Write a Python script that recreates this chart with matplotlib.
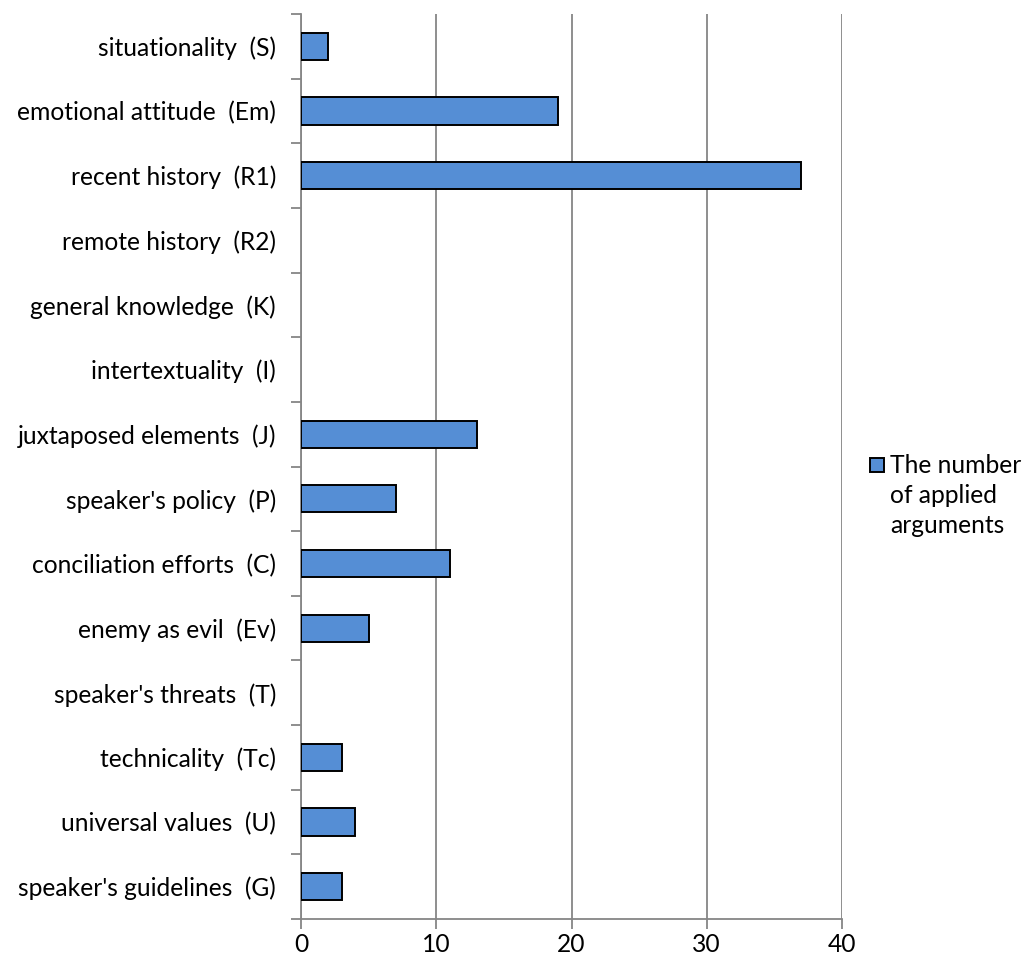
import matplotlib
matplotlib.use("Agg")
import matplotlib.pyplot as plt
from matplotlib.patches import Rectangle

categories = [
    "situationality  (S)",
    "emotional attitude  (Em)",
    "recent history  (R1)",
    "remote history  (R2)",
    "general knowledge  (K)",
    "intertextuality  (I)",
    "juxtaposed elements  (J)",
    "speaker's policy  (P)",
    "conciliation efforts  (C)",
    "enemy as evil  (Ev)",
    "speaker's threats  (T)",
    "technicality  (Tc)",
    "universal values  (U)",
    "speaker's guidelines  (G)",
]
values = [2, 19, 37, 0, 0, 0, 13, 7, 11, 5, 0, 3, 4, 3]
x_ticks = [0, 10, 20, 30, 40]
series_name = "The number\nof applied\narguments"

bar_color = "#558ED5"
grid_color = "#868686"
fs = 17.7

plt.rcParams["font.family"] = ["Lato", "DejaVu Sans"]

W, H = 1029, 965
fig = plt.figure(figsize=(W / 100, H / 100), dpi=100)
ax = fig.add_axes([301 / W, 1 - 919 / H, (842 - 301) / W, (919 - 14) / H])

n = len(categories)
ypos = list(range(n))
edge_w = [1.4 if v > 0 else 0 for v in values]
ax.barh(ypos, values, height=0.42, color=bar_color, edgecolor="black",
        linewidth=edge_w, zorder=3)

ax.set_xlim(0, 40)
ax.set_ylim(n - 0.5, -0.5)
ax.set_xticks(x_ticks)
ax.set_xticklabels([str(t) for t in x_ticks], fontsize=fs)

# category labels at bar centres, tick marks at category boundaries
ax.set_yticks(ypos)
ax.set_yticklabels(categories, fontsize=fs)
ax.tick_params(axis="y", which="major", length=0, pad=18)
ax.set_yticks([i - 0.5 for i in range(n + 1)], minor=True)
ax.tick_params(axis="y", which="minor", length=7, width=1.3, color=grid_color)
ax.tick_params(axis="x", length=7, width=1.3, color=grid_color, pad=3)

ax.xaxis.grid(True, color=grid_color, linewidth=1.3, zorder=0)
for side in ["top", "right"]:
    ax.spines[side].set_visible(False)
for side in ["left", "bottom"]:
    ax.spines[side].set_color(grid_color)
    ax.spines[side].set_linewidth(1.3)

# series key: swatch beside the first line of the label
swatch = Rectangle((870 / W, 1 - 472 / H), 14 / W, 14 / H, transform=fig.transFigure,
                   facecolor=bar_color, edgecolor="black", linewidth=1.4)
fig.add_artist(swatch)
fig.text(890 / W, 1 - 454 / H, series_name, fontsize=fs, ha="left", va="top",
         linespacing=1.38)

fig.savefig("out.png", dpi=100, facecolor="white")
